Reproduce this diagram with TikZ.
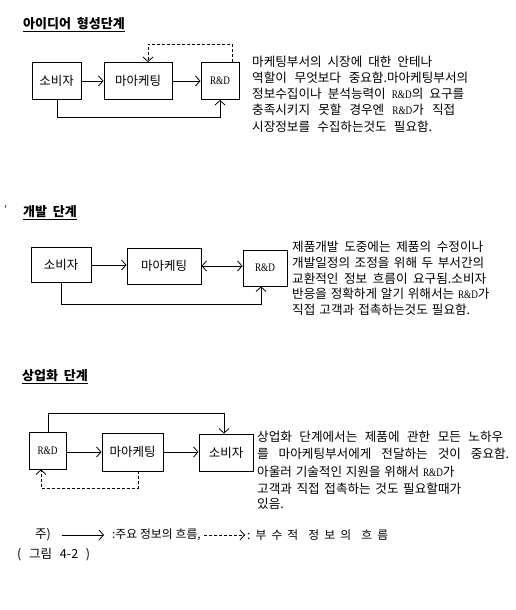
\documentclass[tikz,border=0pt]{standalone}
\usepackage{fontspec}
\usepackage{graphicx}
\setmainfont{Noto Sans CJK KR}
\newfontfamily\lserif{Liberation Serif}
\usetikzlibrary{arrows.meta}
\newcommand\RD{\scalebox{0.8}[1]{\lserif\fontsize{11.5}{11.5}\selectfont R\&D}}
\newcommand\widesp{\spaceskip=0.25em plus 1fil\relax}
\newcommand\natsp{\spaceskip=0.3em\relax}
\newcommand\ttlsp{\spaceskip=0.45em\relax}
\newcommand\tline[2]{\makebox[#1pt][s]{#2}}
\tikzset{
  box/.style={draw, line width=0.9pt, inner sep=0pt, font=\fontsize{12.5}{12.5}\selectfont},
  arr/.style={line width=0.8pt, -{Straight Barb[length=4.5pt,width=10pt,line width=0.8pt]}},
  dsh/.style={dashed, dash pattern=on 3pt off 2pt},
  ttl/.style={anchor=west, inner sep=0pt, font=\fontsize{13}{13}\selectfont\bfseries\ttlsp},
  body/.style={anchor=west, inner sep=0pt, font=\fontsize{12.6}{12.6}\selectfont\widesp},
  bodyn/.style={anchor=west, inner sep=0pt, font=\fontsize{12.6}{12.6}\selectfont\natsp},
  leg/.style={anchor=west, inner sep=0pt, font=\fontsize{11.8}{11.8}\selectfont\widesp},
}
\begin{document}
\begin{tikzpicture}[x=1pt,y=-1pt]
\useasboundingbox[fill=white] (0,0) rectangle (516,610);

% ---------- Section 1 ----------
\node[ttl] (t1) at (23,25) {\underline{아이디어 형성단계}};
\node[box, minimum width=49pt, minimum height=37pt] (c1) at (56.5,81) {소비자};
\node[box, minimum width=68pt, minimum height=37pt] (m1) at (138,81) {마아케팅};
\node[box, minimum width=38pt, minimum height=37pt] (r1) at (220,81) {\RD};
\draw[arr] (c1.east) -- (m1.west);
\draw[arr] (m1.east) -- (r1.west);
\coordinate (d1a) at (232,44);
\coordinate (d1b) at (148,44);
\draw[arr,dsh] (r1.north -| d1a) -- (d1a) -- (d1b) -- (m1.north -| d1b);
\coordinate (s1a) at (57,117);
\coordinate (s1b) at (220,117);
\draw[arr] (c1.south -| s1a) -- (s1a) -- (s1b) -- (r1.south -| s1b);
\node[body] (p1a) at (252,62) {\tline{180}{마케팅부서의 시장에 대한 안테나}};
\node[body] (p1b) at (252,78) {\tline{216}{역할이 무엇보다 중요함.마아케팅부서의}};
\node[body] (p1c) at (252,94) {\tline{212}{정보수집이나 분석능력이 \RD{}의 요구를}};
\node[body] (p1d) at (252,110) {\tline{203}{충족시키지 못할 경우엔 \RD{}가 직접}};
\node[body] (p1e) at (252,127) {\tline{180}{시장정보를 수집하는것도 필요함.}};

% ---------- Section 2 ----------
\node[anchor=west, inner sep=0pt, font=\fontsize{10}{10}\selectfont] (mk) at (4,210) {’};
\node[ttl] (t2) at (23,213) {\underline{개발 단계}};
\node[box, minimum width=60pt, minimum height=35pt] (c2) at (61,265) {소비자};
\node[box, minimum width=74pt, minimum height=36pt] (m2) at (164,266) {마아케팅};
\node[box, minimum width=44pt, minimum height=36pt] (r2) at (265,268) {\RD};
\draw[arr] (c2.east) -- (m2.west |- c2.east);
\draw[line width=0.8pt, {Straight Barb[length=4.5pt,width=10pt,line width=0.8pt]}-{Straight Barb[length=4.5pt,width=10pt,line width=0.8pt]}] (m2.east) -- (r2.west |- m2.east);
\coordinate (s2a) at (61,304);
\coordinate (s2b) at (261,304);
\draw[arr] (c2.south -| s2a) -- (s2a) -- (s2b) -- (r2.south -| s2b);
\node[body] (p2a) at (292,247) {\tline{191}{제품개발 도중에는 제품의 수정이나}};
\node[body] (p2b) at (292,263) {\tline{192}{개발일정의 조정을 위해 두 부서간의}};
\node[body] (p2c) at (292,279) {\tline{194}{교환적인 정보 흐름이 요구됨.소비자}};
\node[bodyn] (p2d) at (292,294) {반응을 정확하게 알기 위해서는 \RD{}가};
\node[body] (p2e) at (292,310) {\tline{178}{직접 고객과 접촉하는것도 필요함.}};

% ---------- Section 3 ----------
\node[ttl] (t3) at (22,377) {\underline{상업화 단계}};
\node[box, minimum width=37pt, minimum height=37pt] (r3) at (47.5,450.5) {\RD};
\node[box, minimum width=61pt, minimum height=38pt] (m3) at (132.5,452) {마아케팅};
\node[box, minimum width=54pt, minimum height=37pt] (c3) at (226,452.5) {소비자};
\draw[arr] (r3.east |- m3.west) -- (m3.west);
\draw[arr] (m3.east) -- (c3.west |- m3.east);
\coordinate (s3a) at (48,413);
\coordinate (s3b) at (224,413);
\draw[arr] (r3.north -| s3a) -- (s3a) -- (s3b) -- (c3.north -| s3b);
\coordinate (d3a) at (138,488);
\coordinate (d3b) at (41,488);
\draw[arr,dsh] (m3.south -| d3a) -- (d3a) -- (d3b) -- (r3.south -| d3b);
\node[body] (p3a) at (257,437) {\tline{246}{상업화 단계에서는 제품에 관한 모든 노하우}};
\node[body] (p3b) at (257,454) {\tline{252}{를 마아케팅부서에게 전달하는 것이 중요함.}};
\node[bodyn] (p3c) at (257,472) {아울러 기술적인 지원을 위해서 \RD{}가};
\node[body] (p3d) at (257,489) {\tline{204}{고객과 직접 접촉하는 것도 필요할때가}};
\node[body] (p3e) at (257,504) {있음.};

% ---------- Legend ----------
\node[anchor=west, inner sep=0pt, font=\fontsize{12.5}{12.5}\selectfont] (lg0) at (35,535) {주)};
\coordinate (la) at (62,535);
\coordinate (lb) at (104,535);
\draw[arr] (la) -- (lb);
\node[leg] (lg1) at (112,535) {\tline{88}{:주요 정보의 흐름,}};
\coordinate (lc) at (204,535);
\coordinate (ld) at (245,535);
\draw[arr,dsh] (lc) -- (ld);
\node[leg] (lg2) at (247,535) {\hbox to 141pt{:\hfil 부\hfil 수\hfil 적\hfil\hfil 정\hfil 보\hfil 의\hfil\hfil 흐\hfil 름}};
\node[anchor=west, inner sep=0pt, font=\fontsize{12.5}{12.5}\selectfont\widesp] (fig) at (17,555) {\tline{73}{( 그림 4-2 )}};
\end{tikzpicture}
\end{document}
